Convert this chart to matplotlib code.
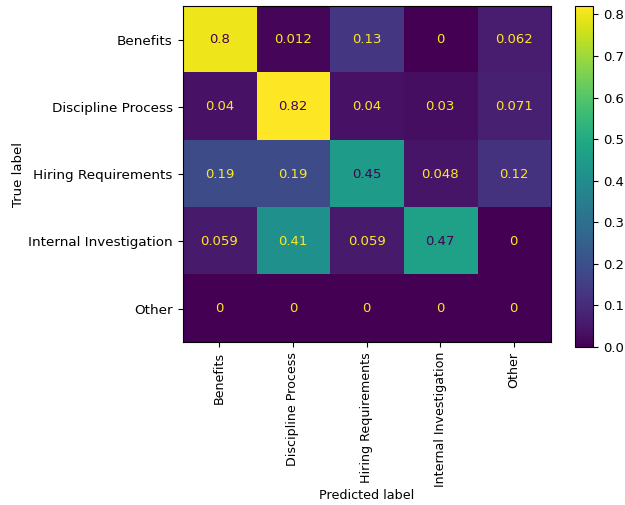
import numpy as np
import matplotlib.pyplot as plt

# Row-normalised confusion matrix (rows = true label, cols = predicted label)
labels = ["Benefits", "Discipline Process", "Hiring Requirements",
          "Internal Investigation", "Other"]
row_benefits = [0.8, 0.012, 0.13, 0.0, 0.062]
row_discipline = [0.04, 0.82, 0.04, 0.03, 0.071]
row_hiring = [0.19, 0.19, 0.45, 0.048, 0.12]
row_internal = [0.059, 0.41, 0.059, 0.47, 0.0]
row_other = [0.0, 0.0, 0.0, 0.0, 0.0]


def main():
    cm = np.array([row_benefits, row_discipline, row_hiring,
                   row_internal, row_other])
    n = len(labels)

    fig = plt.figure(figsize=(6.25, 5.05), dpi=100)
    ax = fig.add_axes([0.292, 0.322, 0.589, 0.666])
    cax = fig.add_axes([0.920, 0.313, 0.029, 0.675])

    cmap = plt.get_cmap("viridis")
    vmax = 0.82
    im = ax.imshow(cm, cmap=cmap, vmin=0, vmax=vmax, aspect="auto",
                   interpolation="nearest")

    # text colour flips at the middle of the colour range, like sklearn
    thresh = (cm.max() + cm.min()) / 2.0
    for i in range(n):
        for j in range(n):
            val = cm[i, j]
            color = cmap(0) if val > thresh else cmap(1.0)
            ax.text(j, i, "{0:.2g}".format(val), ha="center", va="center",
                    color=color, fontsize=9.5)

    ax.set_xticks(np.arange(n))
    ax.set_yticks(np.arange(n))
    ax.set_xticklabels(labels, rotation=90, fontsize=9.1)
    ax.set_yticklabels(labels, fontsize=9.7)
    ax.set_xlabel("Predicted label", fontsize=9.2, labelpad=1)
    ax.set_ylabel("True label", fontsize=9.5, labelpad=2)

    cb = fig.colorbar(im, cax=cax)
    cb.set_ticks(np.arange(0, 0.81, 0.1))
    cb.ax.tick_params(labelsize=9.5)

    fig.savefig("out.png", dpi=100)


if __name__ == "__main__":
    main()
